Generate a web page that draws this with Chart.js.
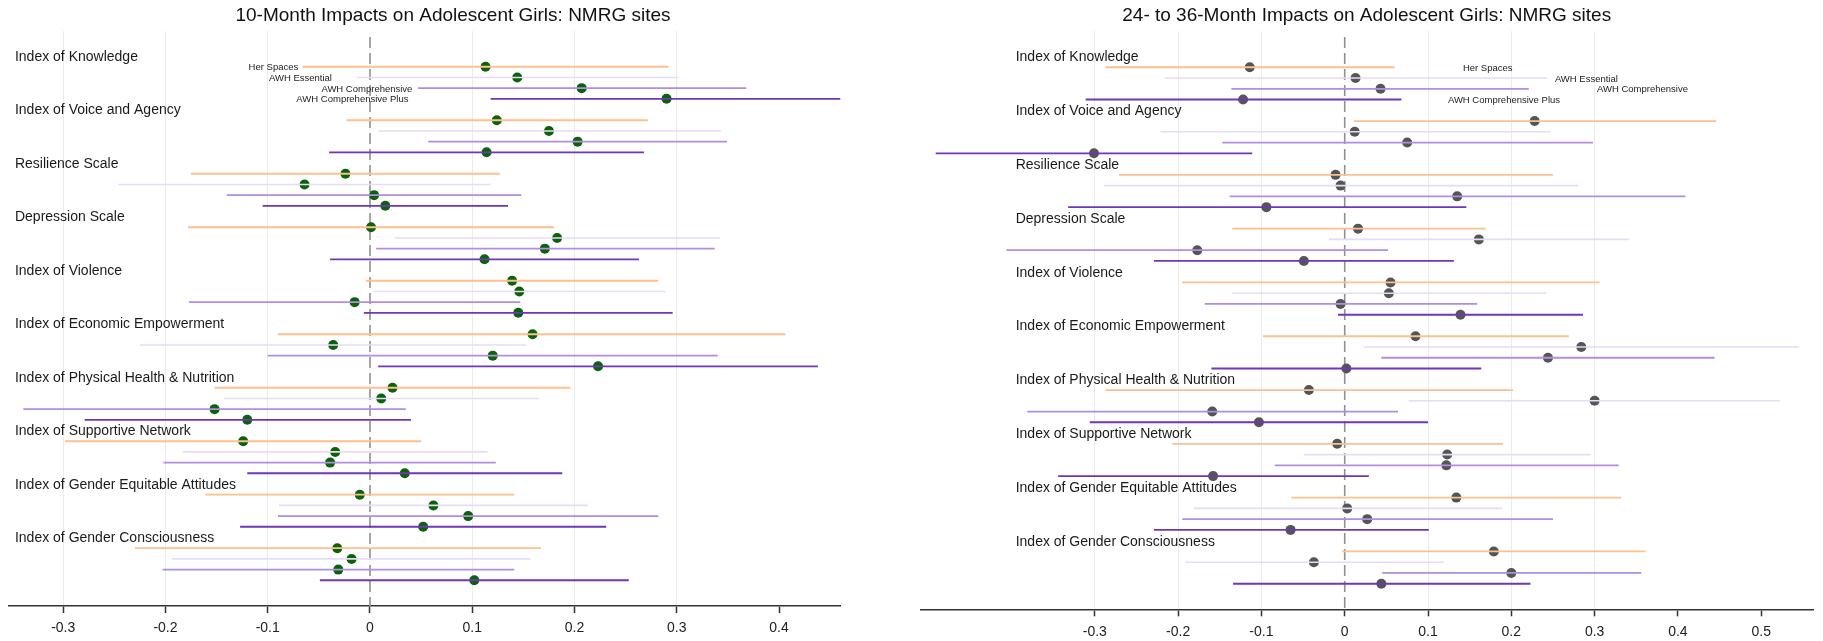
<!DOCTYPE html>
<html lang="en">

<head>
    <meta charset="UTF-8">
    <title>Impacts on Adolescent Girls: NMRG sites</title>
    <style>
        body {
            margin: 0;
            background: #fff;
        }

        .wrap {
            position: relative;
            width: 1823px;
            height: 641px;
        }

        canvas {
            position: absolute;
            top: 0;
        }

        #chart10 {
            left: 0;
        }

        #chart36 {
            left: 900px;
        }
    </style>
</head>

<body>
    <div class="wrap">
        <canvas id="chart10" width="900" height="641"></canvas>
        <canvas id="chart36" width="923" height="641"></canvas>
    </div>

    <script src="https://cdn.jsdelivr.net/npm/chart.js@4.4.0/dist/chart.umd.min.js"></script>
    <script>
        const categories = [
            'Index of Knowledge',
            'Index of Voice and Agency',
            'Resilience Scale',
            'Depression Scale',
            'Index of Violence',
            'Index of Economic Empowerment',
            'Index of Physical Health & Nutrition',
            'Index of Supportive Network',
            'Index of Gender Equitable Attitudes',
            'Index of Gender Consciousness'
        ];
        const seriesNames = ['Her Spaces', 'AWH Essential', 'AWH Comprehensive', 'AWH Comprehensive Plus'];

        // 10-month estimates and 95% CI (same category order)
        const m10Her = [0.113, 0.124, -0.024, 0.001, 0.139, 0.159, 0.022, -0.124, -0.010, -0.032];
        const m10HerLo = [-0.066, -0.023, -0.175, -0.178, -0.004, -0.090, -0.152, -0.298, -0.161, -0.230];
        const m10HerHi = [0.292, 0.272, 0.127, 0.180, 0.282, 0.406, 0.196, 0.050, 0.141, 0.167];

        const m10Ess = [0.144, 0.175, -0.064, 0.183, 0.146, -0.036, 0.011, -0.034, 0.062, -0.018];
        const m10EssLo = [-0.013, 0.008, -0.246, 0.024, 0.004, -0.225, -0.143, -0.183, -0.089, -0.194];
        const m10EssHi = [0.302, 0.343, 0.118, 0.342, 0.289, 0.153, 0.165, 0.115, 0.213, 0.157];

        const m10Comp = [0.207, 0.203, 0.004, 0.171, -0.015, 0.120, -0.152, -0.039, 0.096, -0.031];
        const m10CompLo = [0.047, 0.057, -0.140, 0.006, -0.177, -0.100, -0.339, -0.202, -0.090, -0.203];
        const m10CompHi = [0.368, 0.349, 0.148, 0.337, 0.147, 0.340, 0.035, 0.123, 0.282, 0.141];

        const m10Plus = [0.290, 0.114, 0.015, 0.112, 0.145, 0.223, -0.120, 0.034, 0.052, 0.102];
        const m10PlusLo = [0.118, -0.040, -0.105, -0.039, -0.006, 0.008, -0.279, -0.120, -0.127, -0.049];
        const m10PlusHi = [0.460, 0.268, 0.135, 0.263, 0.296, 0.438, 0.040, 0.188, 0.231, 0.253];

        // 24- to 36-month estimates and 95% CI
        const m36Her = [-0.114, 0.228, -0.011, 0.016, 0.055, 0.085, -0.043, -0.009, 0.134, 0.179];
        const m36HerLo = [-0.287, 0.011, -0.271, -0.135, -0.195, -0.098, -0.287, -0.207, -0.064, -0.003];
        const m36HerHi = [0.060, 0.446, 0.250, 0.169, 0.306, 0.269, 0.202, 0.190, 0.332, 0.361];

        const m36Ess = [0.013, 0.012, -0.005, 0.161, 0.053, 0.284, 0.300, 0.123, 0.003, -0.037];
        const m36EssLo = [-0.216, -0.221, -0.289, -0.019, -0.135, 0.023, 0.077, -0.049, -0.181, -0.191];
        const m36EssHi = [0.243, 0.247, 0.280, 0.341, 0.242, 0.545, 0.523, 0.295, 0.189, 0.119];

        const m36Comp = [0.043, 0.075, 0.135, -0.177, -0.005, 0.244, -0.159, 0.122, 0.027, 0.200];
        const m36CompLo = [-0.136, -0.147, -0.138, -0.406, -0.168, 0.044, -0.381, -0.084, -0.195, 0.045];
        const m36CompHi = [0.221, 0.298, 0.409, 0.052, 0.159, 0.444, 0.064, 0.329, 0.250, 0.356];

        const m36Plus = [-0.122, -0.301, -0.094, -0.049, 0.139, 0.002, -0.103, -0.158, -0.065, 0.044];
        const m36PlusLo = [-0.311, -0.491, -0.332, -0.229, -0.008, -0.160, -0.306, -0.344, -0.229, -0.134];
        const m36PlusHi = [0.068, -0.111, 0.146, 0.131, 0.286, 0.164, 0.100, 0.029, 0.101, 0.223];

        // axis ticks, grid lines, text positions (in data units)
        const ticks10 = [-0.3, -0.2, -0.1, 0, 0.1, 0.2, 0.3, 0.4];
        const ticks36 = [-0.3, -0.2, -0.1, 0, 0.1, 0.2, 0.3, 0.4, 0.5];
        const gridVals = [-0.3, -0.2, -0.1, 0.1, 0.2, 0.3];
        const legendX10 = [-0.1187, -0.0988, -0.0475, -0.072];
        const legendX36 = [0.1419, 0.2523, 0.3028, 0.1239];

        const seriesColors = ['#fdc08e', '#e8dbf7', '#b18de3', '#6f36b8'];
        const lineWidths = [1.8, 1.6, 1.8, 1.9];
        const FONT = '"Liberation Sans", Arial, Helvetica, sans-serif';

        Chart.defaults.font.family = FONT;

        function rowOf(cat, s) {
            return cat * 5 + 1 + s;
        }

        function makeDatasets(est, lo, hi, dotColor) {
            const sets = [];
            for (let s = 0; s < est.length; s++) {
                const bars = [];
                const dots = [];
                for (let i = 0; i < categories.length; i++) {
                    const y = rowOf(i, s);
                    bars.push({ x: lo[s][i], y: y }, { x: hi[s][i], y: y }, { x: hi[s][i], y: null });
                    dots.push({ x: est[s][i], y: y });
                }
                sets.push({
                    type: 'line',
                    label: seriesNames[s],
                    data: bars,
                    borderColor: seriesColors[s],
                    borderWidth: lineWidths[s],
                    pointRadius: 0,
                    spanGaps: false,
                    fill: false,
                    order: 0
                });
                sets.push({
                    type: 'scatter',
                    label: seriesNames[s],
                    data: dots,
                    backgroundColor: dotColor,
                    borderWidth: 0,
                    pointRadius: 5,
                    order: 1
                });
            }
            return sets;
        }

        function decor(opt) {
            return {
                id: 'decor',
                beforeDatasetsDraw(chart) {
                    const ctx = chart.ctx;
                    const area = chart.chartArea;
                    const x0 = chart.scales.x.getPixelForValue(0);
                    ctx.save();
                    ctx.strokeStyle = '#909090';
                    ctx.lineWidth = 1.6;
                    ctx.setLineDash([11, 5]);
                    ctx.beginPath();
                    ctx.moveTo(x0, area.top + 6);
                    ctx.lineTo(x0, area.bottom);
                    ctx.stroke();
                    ctx.restore();
                },
                afterDraw(chart) {
                    const ctx = chart.ctx;
                    const xs = chart.scales.x;
                    const ys = chart.scales.y;
                    ctx.save();
                    ctx.fillStyle = '#111';
                    ctx.textBaseline = 'middle';

                    ctx.font = '19px ' + FONT;
                    ctx.textAlign = 'center';
                    ctx.fillText(opt.title, opt.titleX, 16);

                    ctx.font = '14px ' + FONT;
                    ctx.textAlign = 'left';
                    ctx.fillStyle = '#1a1a1a';
                    categories.forEach((c, i) => {
                        ctx.fillText(c, xs.getPixelForValue(opt.labelX), ys.getPixelForValue(i * 5) + 1);
                    });

                    ctx.font = '9.5px ' + FONT;
                    ctx.fillStyle = '#222';
                    seriesNames.forEach((n, s) => {
                        ctx.fillText(n, xs.getPixelForValue(opt.legendX[s]), ys.getPixelForValue(rowOf(0, s)) + 1);
                    });
                    ctx.restore();
                }
            };
        }

        function makeChart(id, cfg) {
            return new Chart(document.getElementById(id), {
                type: 'scatter',
                data: { datasets: cfg.datasets },
                options: {
                    responsive: false,
                    animation: false,
                    devicePixelRatio: 1,
                    layout: { padding: cfg.padding },
                    plugins: {
                        legend: { display: false },
                        tooltip: { enabled: false }
                    },
                    scales: {
                        x: {
                            type: 'linear',
                            min: cfg.xMin,
                            max: cfg.xMax,
                            afterBuildTicks: s => {
                                s.ticks = cfg.ticks.map(v => ({ value: v }));
                            },
                            afterFit: s => {
                                s.height = cfg.axisHeight;
                            },
                            grid: {
                                color: c => (c.tick && gridVals.some(g => Math.abs(g - c.tick.value) < 1e-9)) ? '#ebebeb' : 'rgba(0,0,0,0)',
                                lineWidth: 1,
                                drawTicks: true,
                                tickLength: 7,
                                tickColor: '#333',
                                tickWidth: 1.5
                            },
                            border: { display: true, color: '#333', width: 1.6 },
                            ticks: {
                                font: { size: 14 },
                                color: '#222',
                                padding: 7,
                                autoSkip: false,
                                maxRotation: 0,
                                callback: v => v === 0 ? '0' : v.toFixed(1)
                            }
                        },
                        y: {
                            type: 'linear',
                            display: false,
                            reverse: true,
                            min: cfg.yMin,
                            max: cfg.yMax
                        }
                    }
                },
                plugins: [decor(cfg)]
            });
        }

        makeChart('chart10', {
            datasets: makeDatasets(
                [m10Her, m10Ess, m10Comp, m10Plus],
                [m10HerLo, m10EssLo, m10CompLo, m10PlusLo],
                [m10HerHi, m10EssHi, m10CompHi, m10PlusHi],
                '#0b620b'),
            padding: { left: 8.3, right: 59.3, top: 31, bottom: 0 },
            axisHeight: 35,
            xMin: -0.3537,
            xMax: 0.4603,
            yMin: -2.34,
            yMax: 51.4,
            ticks: ticks10,
            title: '10-Month Impacts on Adolescent Girls: NMRG sites',
            titleX: 453,
            labelX: -0.3472,
            legendX: legendX10
        });

        makeChart('chart36', {
            datasets: makeDatasets(
                [m36Her, m36Ess, m36Comp, m36Plus],
                [m36HerLo, m36EssLo, m36CompLo, m36PlusLo],
                [m36HerHi, m36EssHi, m36CompHi, m36PlusHi],
                '#555555'),
            padding: { left: 20.7, right: 9.3, top: 31, bottom: 0 },
            axisHeight: 31.7,
            xMin: -0.509,
            xMax: 0.563,
            yMin: -2.37,
            yMax: 51.38,
            ticks: ticks36,
            title: '24- to 36-Month Impacts on Adolescent Girls: NMRG sites',
            titleX: 466.7,
            labelX: -0.395,
            legendX: legendX36
        });
    </script>
</body>

</html>
